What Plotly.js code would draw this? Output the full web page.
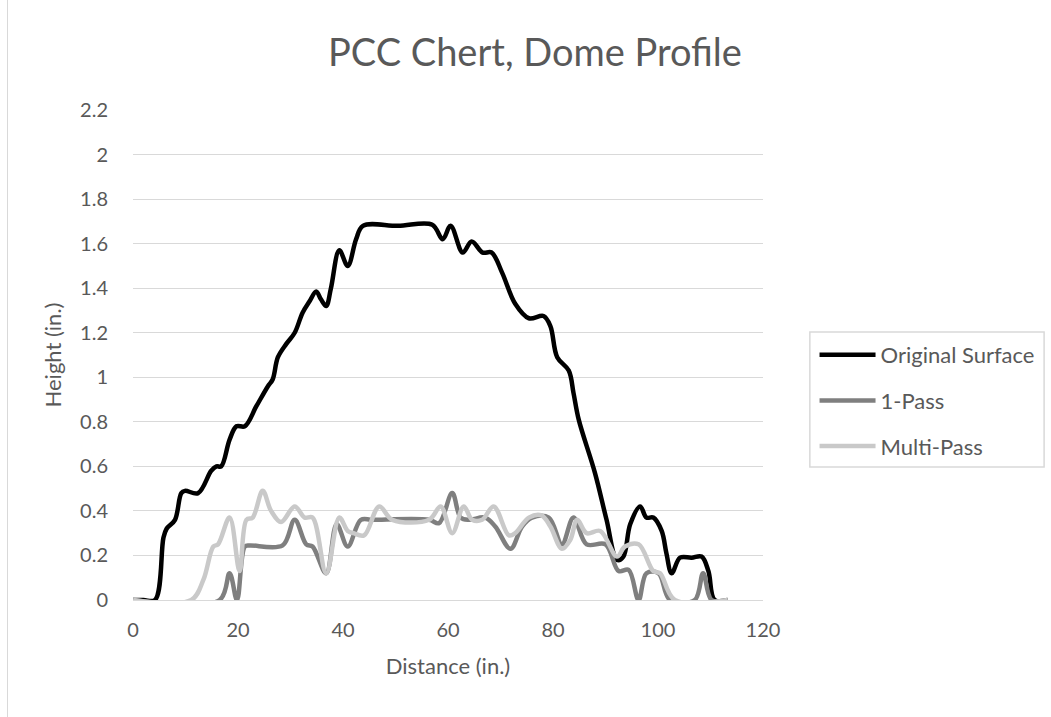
<!DOCTYPE html>
<html>
<head>
<meta charset="utf-8">
<script src="https://cdn.plot.ly/plotly-3.0.1.min.js"></script>
<style>
html,body{margin:0;padding:0;background:#fff;}
#chart{position:absolute;left:0;top:0;width:1051px;height:717px;}
#frame{position:absolute;left:7px;top:0;width:1px;height:717px;background:#d9d9d9;}
</style>
</head>
<body>
<div id="chart"></div>
<div id="frame"></div>
<script>
// Original Surface
const distOriginal = [0, 2, 4.2, 5.8, 6.4, 8.0, 9.2, 9.9, 12.4, 14.9, 15.9, 16.8, 18.4, 19.7, 21.3, 23.5, 25.7, 26.6, 27.6, 29.2, 30.8, 32.3, 33.6, 34.9, 35.8, 36.8, 37.7, 39.3, 40.9, 42.5, 43.8, 50.5, 57, 59, 60.5, 62.8, 64.5, 66.6, 68.3, 70.3, 72.8, 75.4, 78.2, 79.5, 80.8, 83.0, 83.9, 84.9, 88.0, 90.2, 92.2, 93.4, 94.7, 96.6, 97.8, 99.1, 100.7, 101.6, 102.6, 104.2, 106.4, 108.3, 109.6, 110.8, 113.3];
const heightOriginal = [0, 0, 0, 0.28, 0.32, 0.36, 0.48, 0.49, 0.48, 0.58, 0.60, 0.60, 0.72, 0.78, 0.78, 0.87, 0.96, 0.99, 1.09, 1.15, 1.20, 1.29, 1.34, 1.385, 1.35, 1.32, 1.40, 1.57, 1.50, 1.62, 1.68, 1.68, 1.685, 1.62, 1.68, 1.56, 1.61, 1.56, 1.56, 1.47, 1.33, 1.265, 1.275, 1.23, 1.09, 1.03, 0.93, 0.81, 0.57, 0.36, 0.18, 0.195, 0.34, 0.42, 0.37, 0.37, 0.31, 0.21, 0.12, 0.19, 0.19, 0.195, 0.13, 0, 0];

// 1-Pass
const distOnePass = [0, 16.5, 18.4, 19.8, 21.3, 22.2, 28.5, 30.8, 33.0, 34.2, 36.8, 38.8, 40.9, 43.4, 45.6, 56.4, 58.3, 60.8, 62.4, 64.0, 67.1, 69.0, 71.9, 74.1, 76.0, 79.2, 81.7, 83.9, 86.4, 90.0, 92.5, 94.4, 96.3, 97.8, 100.1, 102.3, 107.0, 108.6, 110.2, 113.3];
const heightOnePass = [0, 0, 0.12, 0, 0.24, 0.245, 0.245, 0.36, 0.25, 0.24, 0.12, 0.34, 0.24, 0.36, 0.36, 0.36, 0.345, 0.48, 0.37, 0.36, 0.37, 0.33, 0.23, 0.33, 0.37, 0.37, 0.25, 0.37, 0.25, 0.25, 0.13, 0.135, 0, 0.12, 0.12, 0, 0, 0.12, 0, 0];

// Multi-Pass
const distMultiPass = [0, 11.1, 13.4, 15.3, 16.2, 18.4, 20.3, 21.6, 22.8, 24.7, 26.3, 28.2, 30.8, 32.7, 34.2, 36.8, 39.3, 40.9, 42.0, 44.0, 46.9, 49.4, 56.4, 58.6, 60.8, 63.0, 64.6, 66.5, 68.7, 71.6, 72.8, 75.4, 77.8, 79.5, 81.7, 83.3, 84.6, 86.4, 89.0, 92.2, 93.7, 96.3, 99.1, 100.4, 103.2, 113.3];
const heightMultiPass = [0, 0, 0.09, 0.24, 0.25, 0.37, 0.13, 0.36, 0.37, 0.49, 0.40, 0.35, 0.42, 0.37, 0.37, 0.12, 0.37, 0.31, 0.30, 0.29, 0.42, 0.36, 0.36, 0.42, 0.30, 0.42, 0.36, 0.36, 0.42, 0.29, 0.30, 0.37, 0.38, 0.33, 0.23, 0.27, 0.36, 0.30, 0.31, 0.195, 0.24, 0.25, 0.13, 0.12, 0, 0];

const seriesNames = ['Original Surface', '1-Pass', 'Multi-Pass'];
const xTickVals = [0, 20, 40, 60, 80, 100, 120];
const yTickVals = [0, 0.2, 0.4, 0.6, 0.8, 1, 1.2, 1.4, 1.6, 1.8, 2, 2.2];

function mkTrace(x, y, name, color, group) {
  return {
    type: 'scatter', mode: 'lines', x: x, y: y, name: name, legendgroup: group,
    line: {color: color, width: 4.5, shape: 'spline', smoothing: 1},
    hoverinfo: 'skip'
  };
}

const data = [
  mkTrace(distOriginal, heightOriginal, seriesNames[0], '#000000', 'g1'),
  mkTrace(distOnePass, heightOnePass, seriesNames[1], '#7f7f7f', 'g2'),
  mkTrace(distMultiPass, heightMultiPass, seriesNames[2], '#c9c9c9', 'g3')
];

const layout = {
  width: 1051, height: 717,
  margin: {l: 133, r: 286, t: 110, b: 117, pad: 0},
  paper_bgcolor: '#ffffff', plot_bgcolor: '#ffffff',
  font: {family: 'Lato, "Open Sans", sans-serif', color: '#595959'},
  showlegend: true,
  title: {
    text: 'PCC Chert, Dome Profile',
    font: {size: 38, color: '#595959'},
    xref: 'container', x: 0.509, xanchor: 'center',
    yref: 'container', y: 1 - 53 / 717, yanchor: 'middle'
  },
  xaxis: {
    range: [0, 120], tickmode: 'array', tickvals: xTickVals,
    showgrid: false, zeroline: false,
    showline: true, linecolor: '#d9d9d9', linewidth: 1,
    ticks: 'outside', ticklen: 12, tickcolor: 'rgba(0,0,0,0)',
    tickfont: {size: 20, color: '#595959'},
    title: {text: 'Distance (in.)', font: {size: 22, color: '#595959'}, standoff: 18},
    fixedrange: true
  },
  yaxis: {
    range: [0, 2.2], tickmode: 'array', tickvals: yTickVals,
    showgrid: true, gridcolor: '#d9d9d9', gridwidth: 1,
    zeroline: false, showline: false,
    ticks: 'outside', ticklen: 20, tickcolor: 'rgba(0,0,0,0)',
    tickfont: {size: 20, color: '#595959'},
    title: {text: 'Height (in.)', font: {size: 22, color: '#595959'}, standoff: 12},
    fixedrange: true
  },
  legend: {
    x: 1.0818, xanchor: 'left', y: (600 - 334) / 490, yanchor: 'top',
    borderwidth: 0, bgcolor: 'rgba(0,0,0,0)',
    font: {size: 22, color: '#595959'},
    itemwidth: 56, tracegroupgap: 14, traceorder: 'grouped'
  },
  shapes: [{
    type: 'rect', xref: 'paper', yref: 'paper',
    x0: (812 - 133) / 632, x1: (1047 - 133) / 632,
    y0: (600 - 467) / 490, y1: (600 - 332) / 490,
    line: {color: '#d9d9d9', width: 1.5}, fillcolor: 'rgba(0,0,0,0)', layer: 'below'
  }]
};

Plotly.newPlot('chart', data, layout, {displayModeBar: false, staticPlot: true});
</script>
</body>
</html>
